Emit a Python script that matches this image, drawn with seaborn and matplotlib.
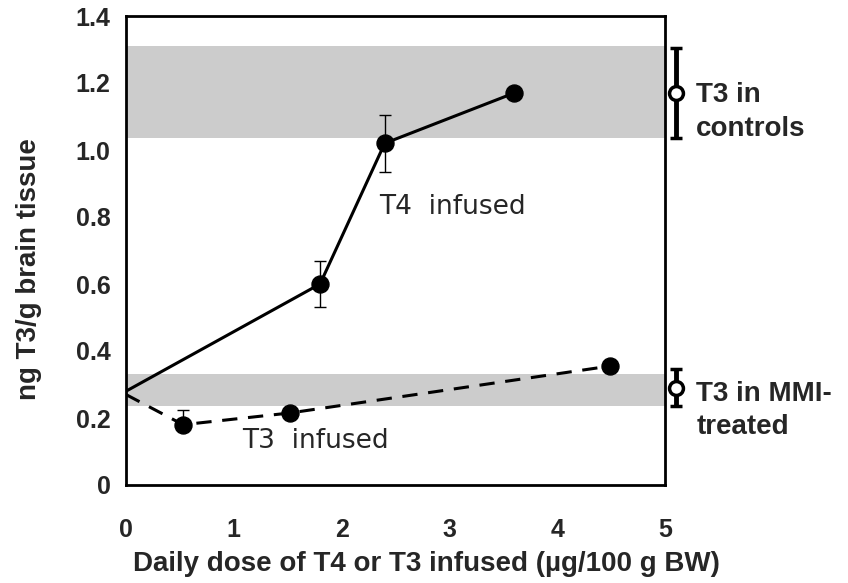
import numpy as np
import pandas as pd
import matplotlib
matplotlib.use("Agg")
import matplotlib.pyplot as plt
import seaborn as sns

# T4 infused (solid line)
t4_dose = [0.0, 1.8, 2.4, 3.6]
t4_t3 = [0.28, 0.60, 1.02, 1.17]
t4_err = [0.0, 0.07, 0.085, 0.0]

# T3 infused (dashed line)
t3_dose = [0.0, 0.53, 1.52, 4.49]
t3_t3 = [0.27, 0.18, 0.215, 0.355]
t3_err_up = [0.0, 0.045, 0.0, 0.0]

# reference groups shown at the right edge
ref_labels = ["T3 in\ncontrols", "T3 in MMI-\ntreated"]
ref_mean = [1.17, 0.29]
ref_err = [0.135, 0.055]
ref_band = [(1.036, 1.31), (0.236, 0.331)]

sns.set_style("white")
plt.rcParams["font.family"] = ["Liberation Sans", "DejaVu Sans"]

fig = plt.figure(figsize=(8.48, 5.83), dpi=100)
ax = fig.add_axes([126 / 848, 1 - 485 / 583, (665 - 126) / 848, (485 - 16) / 583])

for lo, hi in ref_band:
    ax.axhspan(lo, hi, color="#cccccc", zorder=0, lw=0)

t4 = pd.DataFrame({"dose": t4_dose, "t3": t4_t3})
t3 = pd.DataFrame({"dose": t3_dose, "t3": t3_t3})

sns.lineplot(data=t4, x="dose", y="t3", color="black", lw=2.2, ax=ax, zorder=3)
sns.lineplot(data=t3, x="dose", y="t3", color="black", lw=2.2, ax=ax,
             linestyle=(0, (5, 3.5)), zorder=3)

sns.scatterplot(data=t4.iloc[1:], x="dose", y="t3", color="black", s=150,
                edgecolor="black", ax=ax, zorder=4)
sns.scatterplot(data=t3.iloc[1:], x="dose", y="t3", color="black", s=150,
                edgecolor="black", ax=ax, zorder=4)

ax.errorbar(t4_dose[1:3], t4_t3[1:3], yerr=t4_err[1:3], fmt="none",
            ecolor="black", elinewidth=1, capsize=4, capthick=1, zorder=3)
ax.errorbar([t3_dose[1]], [t3_t3[1]], yerr=[[0], [t3_err_up[1]]], fmt="none",
            ecolor="black", elinewidth=1, capsize=4, capthick=1, zorder=3)

# open circles outside the axes
ref_x = 5.1
text_y = [1.113, 0.222]
for m, e, lab, ty in zip(ref_mean, ref_err, ref_labels, text_y):
    ax.errorbar([ref_x], [m], yerr=[e], fmt="o", ms=10, mfc="white", mec="black",
                mew=2.5, ecolor="black", elinewidth=3.5, capsize=4, capthick=3.5,
                clip_on=False, zorder=5)
    ax.text(5.29, ty, lab, ha="left", va="center", fontsize=20,
            fontweight="bold", linespacing=1.38, clip_on=False)

ax.text(3.03, 0.83, "T4  infused", ha="center", va="center", fontsize=19,
        family="DejaVu Sans")
ax.text(1.76, 0.13, "T3  infused", ha="center", va="center", fontsize=19,
        family="DejaVu Sans")

ax.set_xlim(0, 5)
ax.set_ylim(0, 1.4)
ax.set_xticks([0, 1, 2, 3, 4, 5])
ax.set_xticklabels(["0", "1", "2", "3", "4", "5"])
ax.set_yticks([0, 0.2, 0.4, 0.6, 0.8, 1.0, 1.2, 1.4])
ax.set_yticklabels(["0", "0.2", "0.4", "0.6", "0.8", "1.0", "1.2", "1.4"])
ax.tick_params(axis="both", length=0, labelsize=18)
ax.tick_params(axis="y", pad=11)
ax.tick_params(axis="x", pad=24)
for lab in ax.get_xticklabels() + ax.get_yticklabels():
    lab.set_fontweight("bold")

ax.set_xlabel("Daily dose of T4 or T3 infused (\u00b5g/100 g BW)", fontsize=20,
              fontweight="bold")
ax.set_ylabel("ng T3/g brain tissue", fontsize=20, fontweight="bold")
ax.xaxis.set_label_coords(0.558, -0.14)
ax.yaxis.set_label_coords(-0.155, 0.46)

for sp in ax.spines.values():
    sp.set_visible(True)
    sp.set_color("black")
    sp.set_linewidth(2)

fig.savefig("out.png", dpi=100)
